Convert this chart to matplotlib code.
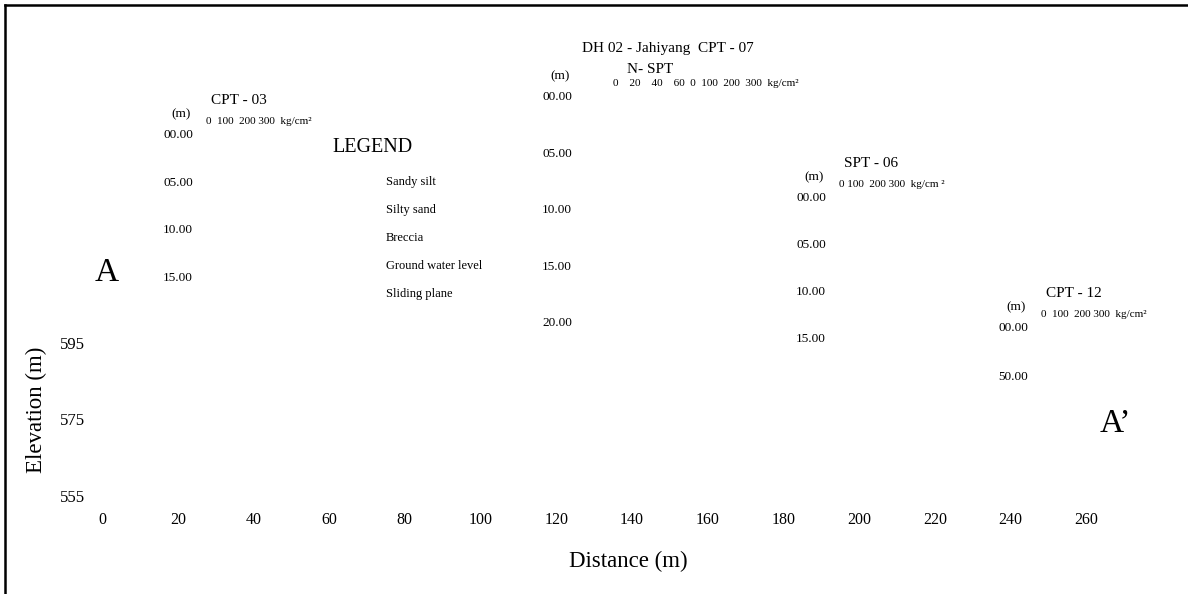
import matplotlib.pyplot as plt
from matplotlib.lines import Line2D

plt.rcParams['font.family'] = ['Liberation Serif', 'DejaVu Serif']

# section axes
dist_ticks = [0, 20, 40, 60, 80, 100, 120, 140, 160, 180, 200, 220, 240, 260]
elev_ticks = [595, 575, 555]

# boreholes along the A - A' line
bh_names = ['CPT - 03', 'DH 02 - Jahiyang  CPT - 07', 'SPT - 06', 'CPT - 12']
bh_dist = [24.0, 124.2, 191.3, 244.7]
bh_top = [649.4, 659.3, 632.9, 598.9]
bh_depths = [
    ['00.00', '05.00', '10.00', '15.00'],
    ['00.00', '05.00', '10.00', '15.00', '20.00'],
    ['00.00', '05.00', '10.00', '15.00'],
    ['00.00', '50.00'],
]
bh_scales = [
    '0  100  200 300  kg/cm²',
    '0    20    40    60  0  100  200  300  kg/cm²',
    '0 100  200 300  kg/cm ²',
    '0  100  200 300  kg/cm²',
]

legend_items = ['Sandy silt', 'Silty sand', 'Breccia',
                'Ground water level', 'Sliding plane']

# drawing layout
log_step = [12.46, 14.77, 12.29, 12.81]   # plotted height of one depth interval
name_off = [(13, 25), (7, 35), (13, 25), (13, 25)]
scale_off = [(9.5, 9.5), (29.5, 9.5), (9.5, 9.5), (9.5, 9.5)]

fig = plt.figure(figsize=(11.88, 5.94), dpi=100)
ax = fig.add_axes([0.0859, 0.1521, 0.8921, 0.8308])
ax.set_xlim(0, 280)
ax.set_ylim(553, 682)
for s in ax.spines.values():
    s.set_visible(False)
ax.set_xticks(dist_ticks)
ax.set_yticks(elev_ticks)
ax.tick_params(axis='x', length=0, labelsize=11.5, pad=6)
ax.tick_params(axis='y', length=0, labelsize=12, pad=12)
ax.set_xlabel('Distance (m)', fontsize=16.5, va='center')
ax.xaxis.set_label_coords(0.4963, -0.118)
ax.set_ylabel('Elevation (m)', fontsize=16.5, va='center')
ax.yaxis.set_label_coords(-0.062, 0.19)

for i in range(len(bh_names)):
    x = bh_dist[i]
    top = bh_top[i]
    for k, lab in enumerate(bh_depths[i]):
        ax.text(x, top - k * log_step[i], lab, fontsize=9.5,
                ha='right', va='center')
    ax.annotate(bh_names[i], xy=(x, top), xytext=name_off[i],
                textcoords='offset points', fontsize=11,
                ha='left', va='center')
    ax.annotate('(m)', xy=(x, top), xytext=(-1.5, 15),
                textcoords='offset points', fontsize=9.5,
                ha='right', va='center')
    ax.annotate(bh_scales[i], xy=(x, top), xytext=scale_off[i],
                textcoords='offset points', fontsize=8,
                ha='left', va='center')

# N-SPT column header on the drill hole
ax.annotate('N- SPT', xy=(bh_dist[1], bh_top[1]), xytext=(39.5, 19.5),
            textcoords='offset points', fontsize=11, ha='left', va='center')

# legend block
ax.text(60.8, 646.0, 'LEGEND', fontsize=14.5, ha='left', va='center')
for k, item in enumerate(legend_items):
    ax.text(75.0, 637.1 - k * 7.32, item, fontsize=9, ha='left', va='center')

# section end markers
ax.text(1.3, 613.3, 'A', fontsize=24, ha='center', va='center')
ax.text(267.6, 573.8, 'A’', fontsize=24, ha='center', va='center')

# border on top and left
fig.add_artist(Line2D([0.0042, 0.0042], [0, 0.9916], color='black', lw=1.8,
                      transform=fig.transFigure))
fig.add_artist(Line2D([0.0042, 1], [0.9916, 0.9916], color='black', lw=1.8,
                      transform=fig.transFigure))

fig.savefig('out.png', dpi=100)
